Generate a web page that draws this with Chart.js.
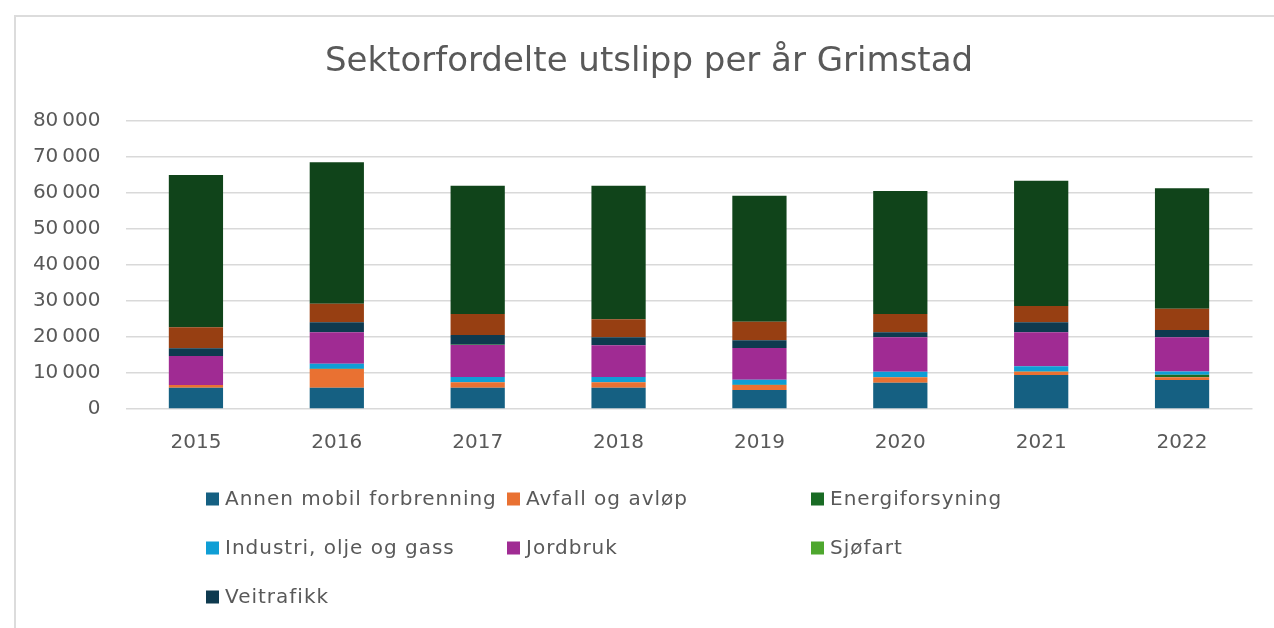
<!DOCTYPE html>
<html>
<head>
<meta charset="utf-8">
<script src="https://cdn.jsdelivr.net/npm/chart.js@4/dist/chart.umd.min.js"></script>
<style>
  html, body { margin: 0; padding: 0; background: #ffffff; }
  #wrap { position: relative; width: 1274px; height: 628px; overflow: hidden; }
  #frame { position: absolute; left: 14px; top: 15px; width: 1400px; height: 700px;
           border-left: 2px solid #dcdcdc; border-top: 2px solid #dcdcdc; }
  canvas { position: absolute; left: 0; top: 0; }
</style>
</head>
<body>
<div id="wrap">
  <div id="frame"></div>
  <canvas id="c" width="1274" height="628"></canvas>
</div>
<script>
const title = "Sektorfordelte utslipp per år Grimstad";
const years = ["2015", "2016", "2017", "2018", "2019", "2020", "2021", "2022"];

const annenMobil   = [5900, 5900, 5900, 5900, 5300, 7300, 9450, 8050];
const avfall       = [750, 5200, 1500, 1500, 1400, 1500, 900, 750];
const energi       = [50, 50, 50, 50, 50, 50, 50, 700];
const industri     = [0, 1450, 1450, 1450, 1400, 1500, 1450, 950];
const jordbruk     = [8000, 8700, 8900, 8800, 8800, 9550, 9450, 9450];
const sjofart      = [20, 20, 20, 20, 20, 20, 20, 20];
const veitrafikk   = [2150, 2800, 2750, 2200, 2150, 1400, 2800, 2050];
const oppvarming   = [5830, 5150, 5850, 5000, 5100, 5100, 4500, 5900];
const ovrige       = [42300, 39250, 35600, 37100, 35000, 34150, 34800, 33450];

const yTicks = [0, 10000, 20000, 30000, 40000, 50000, 60000, 70000, 80000];

const seriesNames  = ["Annen mobil forbrenning", "Avfall og avløp", "Energiforsyning",
                      "Industri, olje og gass", "Jordbruk", "Sjøfart", "Veitrafikk",
                      "Oppvarming", "Øvrige"];
const seriesData   = [annenMobil, avfall, energi, industri, jordbruk, sjofart, veitrafikk, oppvarming, ovrige];
const seriesColors = ["#156082", "#E97132", "#196B24", "#0F9ED5", "#A02B93", "#4EA72E",
                      "#0E3A4F", "#973F12", "#10441A"];
const inLegend     = [true, true, true, true, true, true, true, false, false];

const FONT = "'DejaVu Sans', sans-serif";
const TXT = "#595959";

const datasets = seriesNames.map((n, i) => ({
  label: n,
  data: seriesData[i],
  backgroundColor: seriesColors[i],
  borderWidth: 0,
  categoryPercentage: 1.0,
  barPercentage: 0.385,
  showInLegend: inLegend[i]
}));

function fmt(v) {
  const s = String(v);
  if (s.length <= 3) return s;
  return s.slice(0, s.length - 3) + "\u2009" + s.slice(s.length - 3);
}

const titleAndLegend = {
  id: "titleAndLegend",
  afterDraw(chart) {
    const ctx = chart.ctx;
    ctx.save();
    // title
    ctx.font = "34px " + FONT;
    ctx.fillStyle = TXT;
    ctx.textAlign = "center";
    ctx.textBaseline = "middle";
    ctx.fillText(title, 649, 62);
    // legend grid
    const cols = [206, 507, 811];
    const rows = [499, 548, 597];
    ctx.textAlign = "left";
    ctx.font = "20px " + FONT;
    ctx.letterSpacing = "1px";
    let k = 0;
    chart.data.datasets.forEach(ds => {
      if (!ds.showInLegend) return;
      const x = cols[k % 3];
      const y = rows[Math.floor(k / 3)];
      ctx.fillStyle = ds.backgroundColor;
      ctx.fillRect(x, y - 6.5, 13, 13);
      ctx.fillStyle = TXT;
      ctx.fillText(ds.label, x + 19, y + 1);
      k++;
    });
    ctx.restore();
  }
};

new Chart(document.getElementById("c"), {
  type: "bar",
  data: { labels: years, datasets },
  plugins: [titleAndLegend],
  options: {
    responsive: false,
    animation: false,
    layout: { padding: { left: 0, right: 21.5, top: 121, bottom: 0 } },
    plugins: {
      legend: { display: false },
      tooltip: { enabled: false },
      title: { display: false }
    },
    scales: {
      x: {
        stacked: true,
        grid: { display: false, drawTicks: false },
        border: { display: false },
        ticks: { color: TXT, font: { family: FONT, size: 20 }, padding: 22, maxRotation: 0 },
        afterFit(s) { s.height = 219; }
      },
      y: {
        stacked: true,
        min: 0,
        max: 80000,
        afterBuildTicks(s) { s.ticks = yTicks.map(v => ({ value: v })); },
        grid: { color: "#d9d9d9", lineWidth: 1.5, drawTicks: false },
        border: { display: false },
        ticks: { color: TXT, font: { family: FONT, size: 20 }, padding: 25, callback: v => fmt(v) },
        afterFit(s) { s.width = 125.5; }
      }
    }
  }
});
</script>
</body>
</html>
